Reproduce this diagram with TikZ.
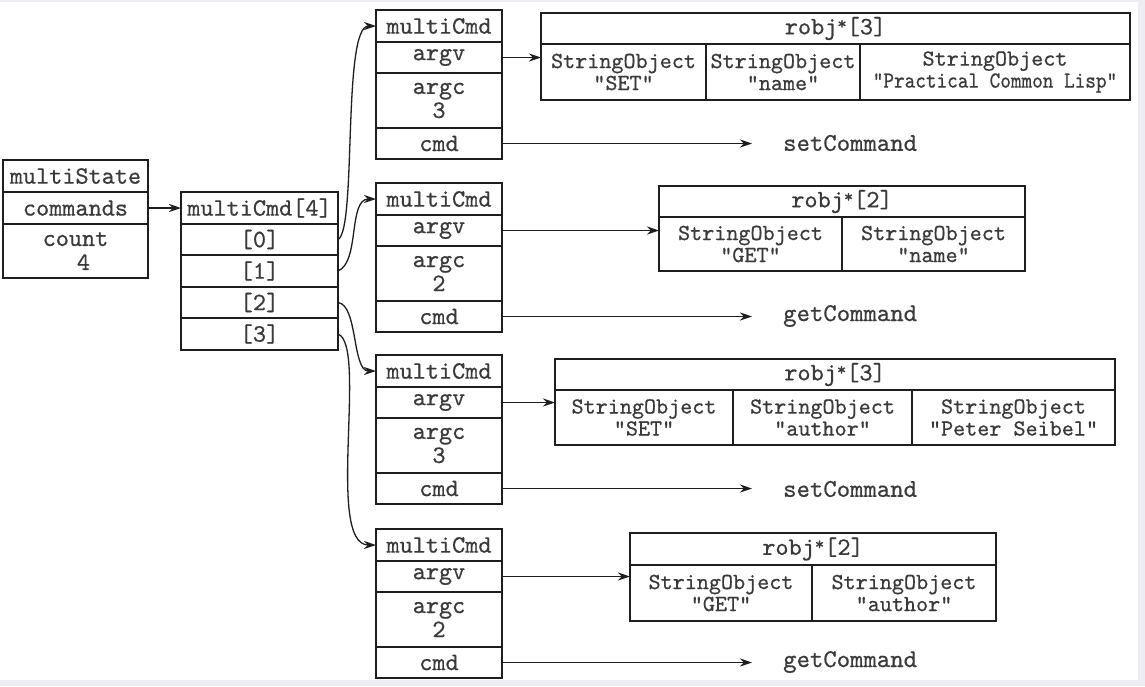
\documentclass[tikz,border=0pt]{standalone}
\usepackage{fontspec}
\usepackage{graphicx}
\newfontfamily\monofnt{lmmono10-regular.otf}[FakeBold=0.6]
\usetikzlibrary{arrows.meta}
\definecolor{bgedge}{HTML}{EEEEF2}
\definecolor{ink}{HTML}{1E1E1E}
\definecolor{txt}{HTML}{3A3A3A}
\newcommand\robjstar{\raisebox{5pt}{\fontsize{18}{18}\selectfont*}}
\begin{document}
\begin{tikzpicture}[x=1pt,y=-1pt,
  cell/.style={draw=ink, line width=1.8pt, anchor=north west, inner sep=0pt, outer sep=0pt,
    text=txt, align=center, font=\monofnt\fontsize{25}{24}\selectfont},
  scell/.style={cell, font=\monofnt\fontsize{23}{22}\selectfont},
  lbl/.style={anchor=west, inner sep=0pt, text=txt, font=\monofnt\fontsize{25.5}{24}\selectfont},
  arr/.style={draw=ink, line width=1.3pt, -{Stealth[length=12pt,width=8pt]}},
]
\useasboundingbox (0,0) rectangle (1145,686);
\fill[bgedge] (0,0) rectangle (1145,686);
\fill[white] (0,2) rectangle (1138,680);

% multiState
\node[cell,minimum width=145,minimum height=32] (ms) at (3,160) {multiState};
\node[cell,minimum width=145,minimum height=32] (msc) at (3,192) {commands};
\node[cell,minimum width=145,minimum height=54] (msn) at (3,224) {count\\\hspace*{16pt}4};

% multiCmd[4]
\node[cell,minimum width=157,minimum height=32] (mc) at (181,192) {multiCmd[4]};
\node[cell,minimum width=157,minimum height=31] (m0) at (181,224) {[0]};
\node[cell,minimum width=157,minimum height=32] (m1) at (181,255) {[1]};
\node[cell,minimum width=157,minimum height=31] (m2) at (181,287) {[2]};
\node[cell,minimum width=157,minimum height=32] (m3) at (181,318) {[3]};

\draw[arr] (msc.east) -- (mc.west);

% command boxes
\foreach \i/\T/\n in {1/10/3, 2/183/2, 3/355/3, 4/529/2}{
  \node[cell,minimum width=126,minimum height=32] (c\i h) at (376,\T) {multiCmd};
  \node[cell,minimum width=126,minimum height=31] (c\i v) at (376,\T+32) {argv};
  \node[cell,minimum width=126,minimum height=55] (c\i c) at (376,\T+63) {argc\\\n};
  \node[cell,minimum width=126,minimum height=31] (c\i m) at (376,\T+118) {cmd};
}

% robj boxes
\node[cell,minimum width=589,minimum height=31] (ah) at (541,13) {robj\robjstar[3]};
\node[scell,minimum width=165,minimum height=56] (a1) at (541,44) {StringObject\\"SET"};
\node[scell,minimum width=154,minimum height=56] (a2) at (706,44) {StringObject\\"name"};
\node[scell,minimum width=270,minimum height=56] (a3) at (860,44) {StringObject\\\scalebox{0.88}[1]{"Practical Common Lisp"}};

\node[cell,minimum width=366,minimum height=31] (bh) at (659,186) {robj\robjstar[2]};
\node[scell,minimum width=183,minimum height=54] (b1) at (659,217) {StringObject\\"GET"};
\node[scell,minimum width=183,minimum height=54] (b2) at (842,217) {StringObject\\"name"};

\node[cell,minimum width=560,minimum height=31] (dh) at (555,359) {robj\robjstar[3]};
\node[scell,minimum width=178,minimum height=55] (d1) at (555,390) {StringObject\\"SET"};
\node[scell,minimum width=179,minimum height=55] (d2) at (733,390) {StringObject\\"author"};
\node[scell,minimum width=203,minimum height=55] (d3) at (912,390) {StringObject\\"Peter Seibel"};

\node[cell,minimum width=366,minimum height=32] (eh) at (630,533) {robj\robjstar[2]};
\node[scell,minimum width=182,minimum height=56] (e1) at (630,565) {StringObject\\"GET"};
\node[scell,minimum width=184,minimum height=56] (e2) at (812,565) {StringObject\\"author"};

% command labels
\node[lbl] (s1) at (783,143) {setCommand};
\node[lbl] (s2) at (783,316) {getCommand};
\node[lbl] (s3) at (783,489) {setCommand};
\node[lbl] (s4) at (783,662) {getCommand};

% argv arrows
\draw[arr] (c1v.east) -- (c1v.east -| a1.west);
\draw[arr] (c2v.east) -- (c2v.east -| b1.west);
\draw[arr] (c3v.east) -- (c3v.east -| d1.west);
\draw[arr] (c4v.east) -- (c4v.east -| e1.west);

% cmd arrows
\draw[arr, shorten >=31pt] (c1m.east) -- (s1.west |- c1m.east);
\draw[arr, shorten >=31pt] (c2m.east) -- (s2.west |- c2m.east);
\draw[arr, shorten >=31pt] (c3m.east) -- (s3.west |- c3m.east);
\draw[arr, shorten >=31pt] (c4m.east) -- (s4.west |- c4m.east);

% curved pointers
\draw[arr] (m0.east) .. controls (357,230) and (342,26) .. (c1h.west);
\draw[arr] (m1.east) .. controls (360,262) and (348,199) .. (c2h.west);
\draw[arr] (m2.east) .. controls (358,305) and (352,371) .. (c3h.west);
\draw[arr] (m3.east) .. controls (368,345) and (325,545) .. (c4h.west);
\end{tikzpicture}
\end{document}
